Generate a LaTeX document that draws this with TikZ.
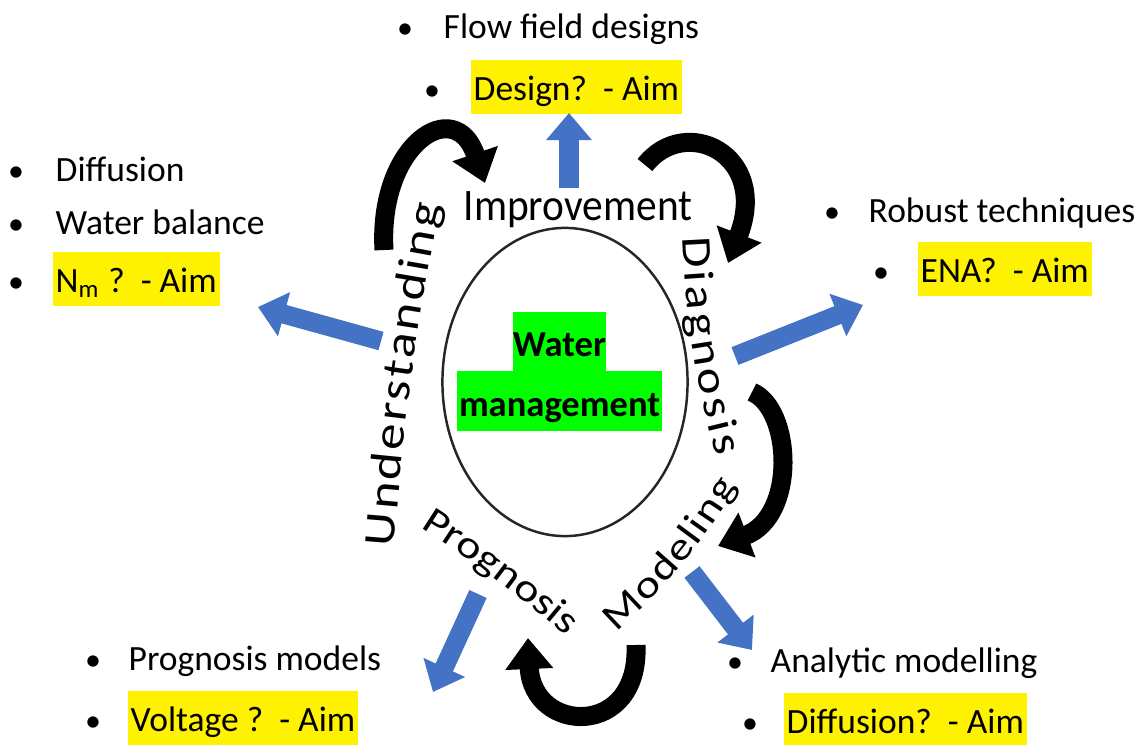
\documentclass[tikz,border=0pt]{standalone}
\usepackage{fontspec}
\setmainfont{Carlito}
\newfontfamily\arcfont{Carlito}[FakeStretch=1.2]
\usepackage{tikz}
\usetikzlibrary{shapes.geometric, arrows.meta, decorations.text}

\definecolor{arrowblue}{HTML}{4472C4}
% fonts for the words set along the loop
\newcommand\arcbig{\arcfont\fontsize{12.5pt}{15pt}\selectfont}
\newcommand\arcmid{\arcfont\fontsize{11pt}{13pt}\selectfont}
\newcommand\arcdia{\arcfont\fontsize{12pt}{14pt}\selectfont}

\begin{document}
\begin{tikzpicture}[x=0.01cm, y=0.01cm,
  font=\fontsize{10.1pt}{12pt}\selectfont,
  item/.style={anchor=base west, inner sep=0pt},
  dot/.style={anchor=base, inner sep=0pt, scale=0.9},
  aim/.style={anchor=base west, fill=yellow, inner xsep=0.03cm, inner ysep=0pt,
              text height=0.40cm, text depth=0.14cm},
  goal/.style={fill=green, inner xsep=0pt, inner ysep=0.07cm, text depth=0.08cm,
               font=\fontsize{10.4pt}{12pt}\selectfont\bfseries},
  cyclearrow/.style={line width=0.19cm, -{Triangle[length=0.31cm, width=0.46cm]}},
  outarrow/.style={draw=arrowblue, line width=0.19cm, -{Triangle[length=0.27cm, width=0.44cm]}},
  arctext/.style={decorate, decoration={text along path, text align={fit to path}}}]
  \useasboundingbox (0,0) rectangle (1144,744);

  % top group
  \node[dot] (b1) at (405,706) {•};
  \node[item] (flow) at (443,706) {Flow field designs};
  \node[dot] (b2) at (432,644) {•};
  \node[aim] (design) at (470,644) {Design?~~- Aim};

  % left group
  \node[dot] (b3) at (16,563) {•};
  \node[item] (diff) at (55,563) {Diffusion};
  \node[dot] (b4) at (16,510) {•};
  \node[item] (balance) at (55,510) {Water balance};
  \node[dot] (b5) at (16,452) {•};
  \node[aim] (nm) at (52,452) {N\textsubscript{m} ?~~- Aim};

  % right group
  \node[dot] (b6) at (832,522) {•};
  \node[item] (robust) at (868,522) {Robust techniques};
  \node[dot] (b7) at (881,462) {•};
  \node[aim] (ena) at (917,462) {ENA?~~- Aim};

  % bottom groups
  \node[dot] (b8) at (93,74) {•};
  \node[item] (progmod) at (128,74) {Prognosis models};
  \node[dot] (b9) at (93,13) {•};
  \node[aim] (volt) at (127,13) {Voltage ?~~- Aim};
  \node[dot] (b10) at (735,72) {•};
  \node[item] (analytic) at (770,72) {Analytic modelling};
  \node[dot] (b11) at (750,11) {•};
  \node[aim] (diffaim) at (783,11) {Diffusion?~~- Aim};

  % hub
  \node[ellipse, draw=black!85, line width=0.7pt, minimum width=2.45cm, minimum height=3.08cm] (hub) at (565,362) {};
  \node[goal, minimum width=0.91cm, text height=0.37cm] (water) at (559.5,402.5) {Water};
  \node[goal, minimum width=2.05cm, text height=0.38cm] (mgmt) at (559.5,343) {management};

  % words round the hub
  \node[font=\fontsize{12.8pt}{15pt}\selectfont, xscale=0.92, anchor=base, inner sep=0pt] (improve) at (578,524) {Improvement};
  \path[arctext, decoration={text={|\arcbig|Understanding}}] (394,197) to[bend left=3] (440,539);
  \path[arctext, decoration={text={|\arcdia|Diagnosis}}] (683,507) to[bend right=6] (716,287);
  \path[arctext, decoration={text={|\arcmid|Prognosis}}] (420,216) to[bend left=4] (566,108);
  \path[arctext, decoration={text={|\arcmid|Modeling}}] (616,112) to[bend right=8] (737,258);

  % cycle
  \draw[cyclearrow] (384,494) .. controls (378,600) and (455,650) .. (485,561);
  \draw[cyclearrow] (645,579) .. controls (685,630) and (770,590) .. (728,481);
  \draw[cyclearrow] (752,352) .. controls (792,335) and (797,228) .. (718,198);
  \draw[cyclearrow] (636,99) .. controls (640,5) and (532,10) .. (528,106);

  % outputs
  \coordinate (impBase) at (569,556);  \coordinate (impTip) at (569,631);
  \coordinate (undBase) at (381,403);  \coordinate (undTip) at (258,437);
  \coordinate (diaBase) at (735,388);  \coordinate (diaTip) at (863,439);
  \coordinate (proBase) at (478,150);  \coordinate (proTip) at (433,52);
  \coordinate (modBase) at (692,172);  \coordinate (modTip) at (752,94);
  \draw[outarrow] (impBase) -- (impTip);
  \draw[outarrow] (undBase) -- (undTip);
  \draw[outarrow] (diaBase) -- (diaTip);
  \draw[outarrow] (proBase) -- (proTip);
  \draw[outarrow] (modBase) -- (modTip);
\end{tikzpicture}
\end{document}
